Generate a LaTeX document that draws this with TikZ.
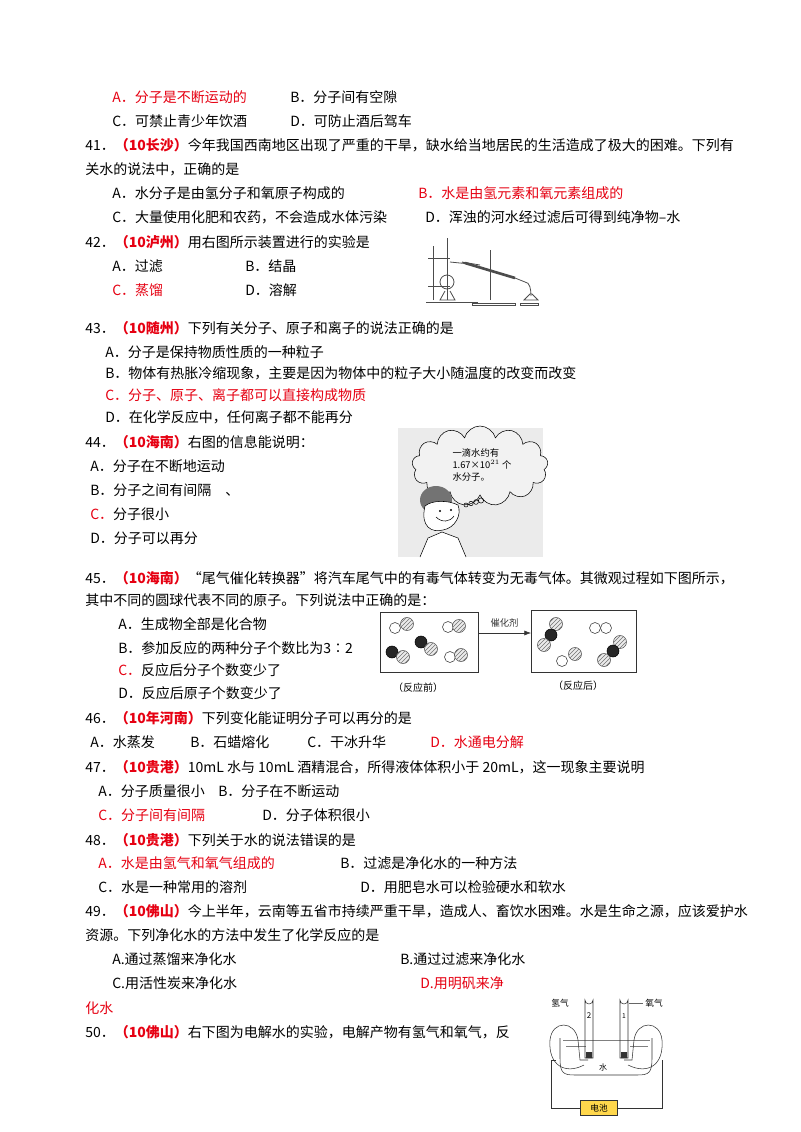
\documentclass[tikz,border=0pt]{standalone}
\usepackage{fontspec}
\setmainfont{Noto Sans CJK SC}
\usetikzlibrary{patterns,arrows.meta,shapes.symbols}
\definecolor{qred}{HTML}{E60012}
\tikzset{txt/.style={anchor=base west,inner sep=0pt,font=\fontsize{10.5}{12}\selectfont},
 rd/.style={txt,text=qred},
 hat/.style={draw=black!70,fill=black!8,postaction={pattern=north east lines,pattern color=black!55}},
 wh/.style={draw=black!80,fill=white},
 bk/.style={draw=black,fill=black!85},
 app/.style={draw=black!70,line width=0.6pt}}
\newcommand{\tag}[1]{\textcolor{qred}{\textbf{（#1）}}}
\begin{document}
\begin{tikzpicture}[x=0.75pt,y=-0.75pt]
\useasboundingbox[fill=white] (0,0) rectangle (800,1132);
\node[rd] (a1) at (112,102) {A．分子是不断运动的};
\node[txt] (b1) at (290,102) {B．分子间有空隙};
\node[txt] (c1) at (112,126) {C．可禁止青少年饮酒};
\node[txt] (d1) at (290,126) {D．可防止酒后驾车};
\node[txt] (q41) at (85,150) {41．\tag{10长沙}今年我国西南地区出现了严重的干旱，缺水给当地居民的生活造成了极大的困难。下列有};
\node[txt] (q41b) at (85,174) {关水的说法中，正确的是};
\node[txt] (a2) at (112,198) {A．水分子是由氢分子和氧原子构成的};
\node[rd] (b2) at (418,198) {B．水是由氢元素和氧元素组成的};
\node[txt] (c2) at (112,222) {C．大量使用化肥和农药，不会造成水体污染};
\node[txt] (d2) at (425,222) {D．浑浊的河水经过滤后可得到纯净物--水};
\node[txt] (q42) at (85,247) {42．\tag{10泸州}用右图所示装置进行的实验是};
\node[txt] (a3) at (112,271) {A．过滤};
\node[txt] (b3) at (245,271) {B．结晶};
\node[rd] (c3) at (112,295) {C．蒸馏};
\node[txt] (d3) at (245,295) {D．溶解};
\node[txt] (q43) at (85,333) {43．\tag{10随州}下列有关分子、原子和离子的说法正确的是};
\node[txt] (a4) at (105,357) {A．分子是保持物质性质的一种粒子};
\node[txt] (b4) at (105,378) {B．物体有热胀冷缩现象，主要是因为物体中的粒子大小随温度的改变而改变};
\node[rd] (c4) at (105,400) {C．分子、原子、离子都可以直接构成物质};
\node[txt] (d4) at (105,422) {D．在化学反应中，任何离子都不能再分};
\node[txt] (q44) at (85,447) {44．\tag{10海南}右图的信息能说明：};
\node[txt] (a5) at (90,471) {A．分子在不断地运动};
\node[txt] (b5) at (90,495) {B．分子之间有间隔　、};
\node[txt] (c5) at (90,519) {\textcolor{qred}{C．}分子很小};
\node[txt] (d5) at (90,543) {D．分子可以再分};
\node[txt] (q45) at (85,583) {45．\tag{10海南}“尾气催化转换器”将汽车尾气中的有毒气体转变为无毒气体。其微观过程如下图所示，};
\node[txt] (q45b) at (85,605) {其中不同的圆球代表不同的原子。下列说法中正确的是：};
\node[txt] (a6) at (118,629) {A．生成物全部是化合物};
\node[txt] (b6) at (118,653) {B．参加反应的两种分子个数比为3∶2};
\node[txt] (c6) at (118,675) {\textcolor{qred}{C．}反应后分子个数变少了};
\node[txt] (d6) at (118,698) {D．反应后原子个数变少了};
\node[txt] (q46) at (85,723) {46．\tag{10年河南}下列变化能证明分子可以再分的是};
\node[txt] (a7) at (90,747) {A．水蒸发};
\node[txt] (b7) at (190,747) {B．石蜡熔化};
\node[txt] (c7) at (307,747) {C．干冰升华};
\node[rd] (d7) at (430,747) {D．水通电分解};
\node[txt] (q47) at (85,772) {47．\tag{10贵港}10mL 水与 10mL 酒精混合，所得液体体积小于 20mL，这一现象主要说明};
\node[txt] (a8) at (98,796) {A．分子质量很小};
\node[txt] (b8) at (218,796) {B．分子在不断运动};
\node[rd] (c8) at (98,820) {C．分子间有间隔};
\node[txt] (d8) at (262,820) {D．分子体积很小};
\node[txt] (q48) at (85,845) {48．\tag{10贵港}下列关于水的说法错误的是};
\node[rd] (a9) at (98,868) {A．水是由氢气和氧气组成的};
\node[txt] (b9) at (340,868) {B．过滤是净化水的一种方法};
\node[txt] (c9) at (98,892) {C．水是一种常用的溶剂};
\node[txt] (d9) at (360,892) {D．用肥皂水可以检验硬水和软水};
\node[txt] (q49) at (85,916) {49．\tag{10佛山}今上半年，云南等五省市持续严重干旱，造成人、畜饮水困难。水是生命之源，应该爱护水};
\node[txt] (q49b) at (85,940) {资源。下列净化水的方法中发生了化学反应的是};
\node[txt] (a10) at (112,964) {A.通过蒸馏来净化水};
\node[txt] (b10) at (400,964) {B.通过过滤来净化水};
\node[txt] (c10) at (112,988) {C.用活性炭来净化水};
\node[rd] (d10) at (420,988) {D.用明矾来净};
\node[rd] (d10b) at (85,1013) {化水};
\node[txt] (q50) at (85,1037) {50．\tag{10佛山}右下图为电解水的实验，电解产物有氢气和氧气，反};
% distillation apparatus
\draw[app] (433,300) -- (433,246) (447,300) -- (447,238) (490,300) -- (490,250);
\draw[app] (426,302) -- (478,302) (472,303) rectangle (515,305) (520,303) rectangle (538,305);
\draw[app] (447,282) circle (7);
\draw[app] (428,258) -- (450,258) (428,286) -- (450,286);
\draw[app] (445,291) -- (440,300) -- (455,300) -- (450,291);
\draw[app] (450,262) -- (470,264) (462,262) -- (480,265);
\draw[app,line width=2pt] (465,263) -- (515,278);
\draw[app] (515,278) -- (525,282) (525,282) .. controls (530,282) and (531,290) .. (531,296);
\draw[app] (524,300) -- (530,294) -- (532,294) -- (538,300) -- cycle;
% cartoon
\fill[black!8] (398,428) rectangle (543,557);
\node[cloud,draw,cloud puffs=13,aspect=1.6,minimum width=102,minimum height=60,inner sep=0pt,fill=white!95!black] (cl) at (480,466) {};
\node[align=left,inner sep=0pt,font=\fontsize{7}{9}\selectfont] (clt) at (482,465) {一滴水约有\\1.67×10$^{21}$ 个\\水分子。};
\foreach \i/\r in {0/2,1/2.2,2/2.4,3/2.6} \draw (466+\i*5,505-\i*1.5) circle (\r);
\fill[black!55] (436,500) ellipse (16 and 14);
\draw[fill=white] (425,506) .. controls (420,527) and (432,533) .. (443,530) .. controls (455,528) and (462,515) .. (458,505) .. controls (448,500) and (432,500) .. cycle;
\draw (436,517) .. controls (442,523) and (450,522) .. (454,516);
\fill (440,511) circle (1.2) (451,510) circle (1.2);
\draw[fill=white] (420,557) -- (428,538) -- (442,532) -- (458,538) -- (466,557);
% reaction
\draw[black!80] (380,612) rectangle (478,672);
\draw[black!80] (531,610) rectangle (636,672);
\draw[-{Latex[length=5pt]},black!80] (478,633) -- (531,633) node[midway,above=1pt,font=\fontsize{7}{8}\selectfont] (cat) {催化剂};
\node[font=\fontsize{7.5}{9}\selectfont] (lb1) at (418,688) {（反应前）};
\node[font=\fontsize{7.5}{9}\selectfont] (lb2) at (578,686) {（反应后）};
\draw[wh] (395,628) circle (5.5); \draw[hat] (407,624) circle (6.5);
\draw[wh] (448,627) circle (5.5); \draw[hat] (459,626) circle (6.5);
\draw[bk] (392,652) circle (6); \draw[hat] (403,657) circle (6.5);
\draw[bk] (421,642) circle (6); \draw[hat] (431,649) circle (6.5);
\draw[wh] (450,657) circle (5.5); \draw[hat] (461,655) circle (6.5);
\draw[hat] (556,624) circle (6.5); \draw[bk] (551,635) circle (6); \draw[hat] (544,645) circle (6.5);
\draw[wh] (595,628) circle (5.5); \draw[wh] (606,628) circle (5.5);
\draw[wh] (562,661) circle (5.5); \draw[hat] (575,654) circle (6.5);
\draw[hat] (620,642) circle (6.5); \draw[bk] (613,651) circle (6); \draw[hat] (604,660) circle (6.5);
% electrolysis
\draw[black!80] (560,1058) .. controls (560,1073) and (563,1075) .. (575,1075) -- (637,1075) .. controls (649,1075) and (652,1073) .. (652,1058) -- (652,1038) (560,1038) -- (560,1058);
\draw[black!50] (563,1040) -- (650,1040) (566,1046) -- (586,1046) (630,1046) -- (648,1046);
\draw[black!80] (584,1065) .. controls (565,1075) and (548,1065) .. (550,1040) .. controls (552,1020) and (575,1020) .. (578,1040) -- (580,1060) -- (588,1060);
\draw[black!80] (624,1060) -- (632,1060) -- (634,1040) .. controls (637,1020) and (660,1020) .. (662,1040) .. controls (664,1065) and (648,1075) .. (628,1065);
\draw[black!80] (556,1060) -- (551,1060) -- (551,1108) -- (585,1108) (613,1108) -- (662,1108) -- (662,1060);
\draw[black!80] (585,1000) arc (180:0:4) -- (593,1058) -- (585,1058) -- cycle;
\draw[black!80] (620,1000) arc (180:0:4) -- (628,1058) -- (620,1058) -- cycle;
\fill[black!80] (586,1052) rectangle (592,1058) (621,1052) rectangle (627,1058);
\node[font=\fontsize{6}{7}\selectfont,inner sep=0pt] (n2) at (589,1016) {2};
\node[font=\fontsize{5}{6}\selectfont,inner sep=0pt] (n1) at (624,1016) {1};
\node[font=\fontsize{6.5}{7}\selectfont] (h2) at (560,1003) {氢气};
\node[font=\fontsize{6.5}{7}\selectfont] (o2) at (654,1003) {氧气};
\draw[black!60] (629,1003) -- (643,1003);
\node[font=\fontsize{6}{7}\selectfont] (sh) at (603,1067) {水};
\node[draw=black!80,fill=orange!45!yellow!70,minimum width=28,minimum height=11,inner sep=0pt,font=\fontsize{6.5}{7}\selectfont] (bat) at (599,1108) {电池};
\end{tikzpicture}
\end{document}
